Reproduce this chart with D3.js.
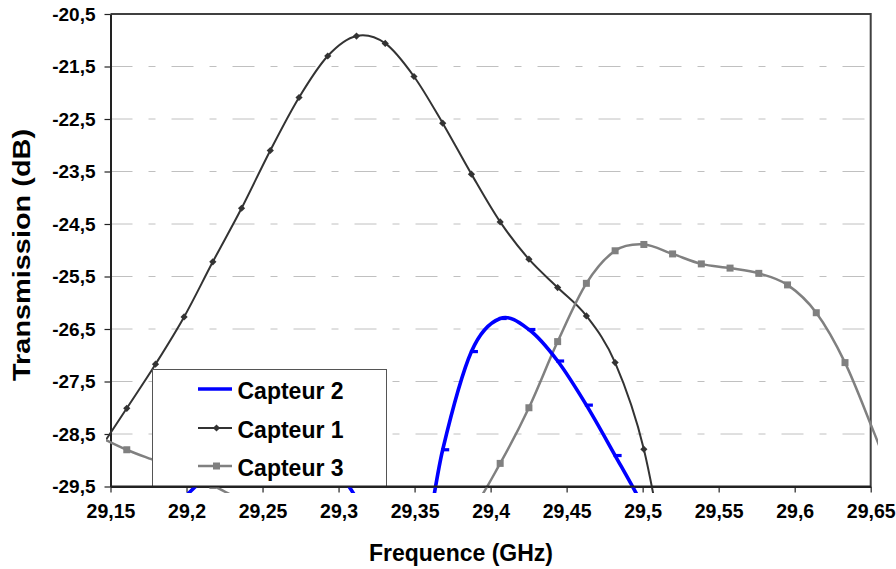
<!DOCTYPE html>
<html><head><meta charset="utf-8">
<script src="https://cdn.jsdelivr.net/npm/d3@7"></script>
<style>
body{margin:0;background:#fff}
svg{display:block}
text{font-family:"Liberation Sans",Arial,sans-serif;font-weight:bold;fill:#000}
</style>
</head><body>
<svg id="c" width="896" height="569"></svg>
<script>
// ---- data ----
const freq = [29.1418, 29.1607, 29.1796, 29.1984, 29.2173, 29.2362, 29.2551, 29.2740, 29.2929, 29.3118,
              29.3307, 29.3496, 29.3685, 29.3874, 29.4063, 29.4252, 29.4441, 29.4630, 29.4819, 29.5008,
              29.5197, 29.5386, 29.5575, 29.5764, 29.5953, 29.6142, 29.6331, 29.6520, 29.6709];
const capteur1 = [-28.84, -28.01, -27.17, -26.27, -25.22, -24.20, -23.10, -22.09, -21.30, -20.92,
                  -21.06, -21.69, -22.58, -23.55, -24.46, -25.17, -25.71, -26.25, -27.14, -28.79,
                  -31.70, null, null, null, null, null, null, null, null];
const capteur2 = [null, null, -30.40, -29.72, -29.20, -28.80, -28.60, -28.60, -28.95, -29.72,
                  -30.60, -31.50, -28.80, -26.93, -26.30, -26.51, -27.11, -27.95, -28.91, -29.90,
                  -31.00, null, null, null, null, null, null, null, null];
const capteur3 = [-28.54, -28.80, -29.01, -29.22, -29.48, -29.76, -30.00, -30.30, -30.50, -30.60,
                  -30.60, -30.50, -30.30, -29.95, -29.06, -28.00, -26.74, -25.63, -25.01, -24.89,
                  -25.07, -25.26, -25.34, -25.44, -25.66, -26.19, -27.14, -28.46, -29.85];
const xTicks = [29.15, 29.2, 29.25, 29.3, 29.35, 29.4, 29.45, 29.5, 29.55, 29.6, 29.65];
const yTicks = [-20.5, -21.5, -22.5, -23.5, -24.5, -25.5, -26.5, -27.5, -28.5, -29.5];
const legendNames = ["Capteur 2", "Capteur 1", "Capteur 3"];
const xTitle = "Frequence (GHz)";
const yTitle = "Transmission (dB)";

// ---- layout ----
const svg = d3.select("#c");
const L = 110.5, R = 870.7, T = 14, B = 486.5;
const x = d3.scaleLinear().domain([29.15, 29.65]).range([L, R]);
const y = d3.scaleLinear().domain([-29.5, -20.5]).range([B, T]);
const fmt = v => String(+v.toFixed(2)).replace(".", ",");

svg.append("defs").append("clipPath").attr("id", "lc")
  .append("rect").attr("x", 106).attr("y", 6).attr("width", 772).attr("height", 487);

// grid
svg.append("g").selectAll("line").data(yTicks.slice(1, -1)).join("line")
  .attr("x1", L).attr("x2", R).attr("y1", d => y(d)).attr("y2", d => y(d))
  .attr("stroke", "#c0c0c0").attr("stroke-width", 1)
  .attr("stroke-dasharray", "22,16,7,16");

// plot border top/right
svg.append("path").attr("d", `M${L},${T}H${R}V${B}`)
  .attr("fill", "none").attr("stroke", "#404040").attr("stroke-width", 2);

// axes
const gx = svg.append("g").attr("transform", `translate(0,${B})`)
  .call(d3.axisBottom(x).tickValues(xTicks).tickSize(6).tickSizeOuter(0).tickFormat(fmt));
gx.selectAll("text").attr("y", 0).attr("dy", "1.62em").style("font-size", "19.5px").attr("fill", "#000");
const gy = svg.append("g").attr("transform", `translate(${L},0)`)
  .call(d3.axisLeft(y).tickValues(yTicks).tickSize(6).tickSizeOuter(0).tickPadding(9).tickFormat(fmt));
gy.selectAll("text").style("font-size", "19px").attr("fill", "#000");
[gx, gy].forEach(g => {
  g.attr("font-family", null).attr("font-size", null);
  g.select(".domain").attr("stroke", "#222").attr("stroke-width", 2);
  g.selectAll(".tick line").attr("stroke", "#222").attr("stroke-width", 1.2);
});

// series
const series = [
  {name: legendNames[1], vals: capteur1, color: "#333333", width: 2, marker: "diamond"},
  {name: legendNames[2], vals: capteur3, color: "#808080", width: 2.5, marker: "square"},
  {name: legendNames[0], vals: capteur2, color: "#0000ff", width: 3.6, marker: "dash"}
];
const line = d3.line().defined(d => d.v != null).x(d => x(d.f)).y(d => y(d.v))
  .curve(d3.curveCardinal.tension(0));
const plot = svg.append("g").attr("clip-path", "url(#lc)");
function drawMarker(g, type, cx, cy, color) {
  if (type === "diamond") {
    g.append("path").attr("d", `M${cx},${cy-3.6}L${cx+3.6},${cy}L${cx},${cy+3.6}L${cx-3.6},${cy}Z`).attr("fill", color);
  } else if (type === "square") {
    g.append("rect").attr("x", cx-3.5).attr("y", cy-3.5).attr("width", 7).attr("height", 7).attr("fill", color);
  } else {
    g.append("rect").attr("x", cx-1.5).attr("y", cy-1.6).attr("width", 8).attr("height", 3.2).attr("fill", color);
  }
}
series.forEach(s => {
  const pts = freq.map((f, i) => ({f, v: s.vals[i]}));
  plot.append("path").datum(pts).attr("d", line)
    .attr("fill", "none").attr("stroke", s.color).attr("stroke-width", s.width).attr("stroke-linejoin", "round");
  const mg = plot.append("g");
  pts.filter(p => p.v != null && p.f >= 29.15 && p.f <= 29.65).forEach(p => drawMarker(mg, s.marker, x(p.f), y(p.v), s.color));
});

// legend
const lg = svg.append("g");
lg.append("rect").attr("x", 152.5).attr("y", 369.5).attr("width", 234).attr("height", 117)
  .attr("fill", "#fff").attr("stroke", "#555").attr("stroke-width", 1);
const legItems = [series[2], series[0], series[1]];
const rowY = [389, 428, 466];
legItems.forEach((s, i) => {
  lg.append("line").attr("x1", 198).attr("x2", 232).attr("y1", rowY[i]).attr("y2", rowY[i])
    .attr("stroke", s.color).attr("stroke-width", s.width);
  if (s.marker !== "dash") drawMarker(lg, s.marker, 216.5, rowY[i], s.color);
  lg.append("text").attr("x", 237.5).attr("y", rowY[i] + 9.5).style("font-size", "23px").text(s.name);
});
// bottom axis redraw over legend edge
svg.append("line").attr("x1", L).attr("x2", R).attr("y1", B).attr("y2", B).attr("stroke", "#222").attr("stroke-width", 2);

// titles
svg.append("text").attr("x", 461).attr("y", 561).attr("text-anchor", "middle").style("font-size", "23px").text(xTitle);
svg.append("text").attr("transform", "translate(30,255) rotate(-90)").attr("text-anchor", "middle")
  .attr("textLength", 252).attr("lengthAdjust", "spacingAndGlyphs").style("font-size", "24px").text(yTitle);
</script>
</body></html>
